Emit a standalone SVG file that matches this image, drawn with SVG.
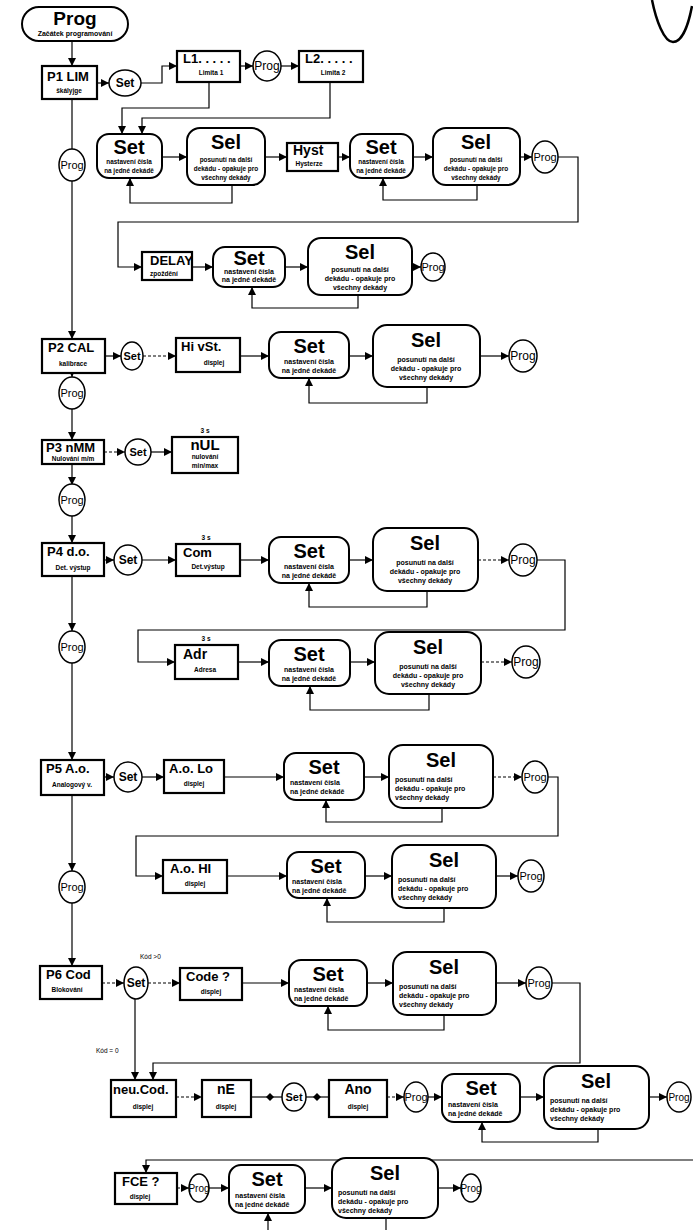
<svg xmlns="http://www.w3.org/2000/svg" width="693" height="1230" viewBox="0 0 693 1230">
<defs>
<marker id="a" viewBox="0 0 10 10" refX="10" refY="5" markerWidth="9" markerHeight="8" markerUnits="userSpaceOnUse" orient="auto"><path d="M0,0 L10,5 L0,10z" fill="#000"/></marker>
<marker id="dm" viewBox="0 0 10 10" refX="5" refY="5" markerWidth="11" markerHeight="8" markerUnits="userSpaceOnUse" orient="auto"><path d="M0,5 L5,0 L10,5 L5,10z" fill="#000"/></marker>
</defs>
<style>
.b{fill:#fff;stroke:#000;stroke-width:2.2}
.r{fill:#fff;stroke:#000;stroke-width:2}
.c{fill:#fff;stroke:#000;stroke-width:1.5}
.l{fill:none;stroke:#000;stroke-width:1.2}
.d{stroke-dasharray:3 2}
text{font-family:"Liberation Sans",Arial,sans-serif;font-weight:bold;fill:#000}
.big{font-size:20px;text-anchor:middle}
.t{font-size:13px}
.tm{font-size:13px;text-anchor:middle}
.s{font-size:6.5px;text-anchor:middle}
.x{font-size:7px;text-anchor:middle}
.xn{font-size:6.4px;text-anchor:middle}
.xl{font-size:7px}
.cs{font-size:12px;text-anchor:middle}
.cp{font-size:12px;text-anchor:middle;font-weight:normal}
</style>
<rect width="693" height="1230" fill="#fff"/>
<path d="M652,0 C656,20 664,42 673,42 C683,42 689,22 692,6" fill="none" stroke="#000" stroke-width="2.5"/>

<g id="connectors">
<path class="l" d="M72,41 V66" marker-end="url(#a)"/>
<path class="l" d="M97,83 H109" marker-end="url(#a)"/>
<path class="l" d="M141,83 H162 V66 H177" marker-end="url(#a)"/>
<path class="l" d="M240,66 H253" marker-end="url(#a)"/>
<path class="l" d="M281,66 H299" marker-end="url(#a)"/>
<path class="l" d="M209,82 V108 H122 V134" marker-end="url(#a)"/>
<path class="l" d="M330,82 V118 H142 V134" marker-end="url(#a)"/>
<path class="l" d="M162,157 H187" marker-end="url(#a)"/>
<path class="l" d="M265,157 H287" marker-end="url(#a)"/>
<path class="l" d="M338,157 H350" marker-end="url(#a)"/>
<path class="l" d="M413,157 H433" marker-end="url(#a)"/>
<path class="l" d="M520,157 H532" marker-end="url(#a)"/>
<path class="l" d="M558,157 H578 V222 H118 V267 H142" marker-end="url(#a)"/>
<path class="l" d="M232,185 V203 H130 V178" marker-end="url(#a)"/>
<path class="l" d="M477,185 V200 H383 V178" marker-end="url(#a)"/>
<path class="l" d="M192,267 H213" marker-end="url(#a)"/>
<path class="l" d="M285,267 H308" marker-end="url(#a)"/>
<path class="l" d="M412,267 H421" marker-end="url(#a)"/>
<path class="l" d="M358,295 V308 H252 V287" marker-end="url(#a)"/>
<path class="l" d="M72,99 V149"/>
<path class="l" d="M72,181 V339" marker-end="url(#a)"/>
<path class="l" d="M105,356 H121" marker-end="url(#a)"/>
<path class="l d" d="M143,356 H176" marker-end="url(#a)"/>
<path class="l" d="M240,356 H269" marker-end="url(#a)"/>
<path class="l" d="M349,356 H373" marker-end="url(#a)"/>
<path class="l" d="M480,356 H509" marker-end="url(#a)"/>
<path class="l" d="M427,387 V403 H309 V378" marker-end="url(#a)"/>
<path class="l" d="M72,373 V377" marker-end="url(#a)"/>
<path class="l" d="M72,409 V440" marker-end="url(#a)"/>
<path class="l d" d="M104,452 H125" marker-end="url(#a)"/>
<path class="l" d="M151,452 H172" marker-end="url(#a)"/>
<path class="l" d="M72,464 V485" marker-end="url(#a)"/>
<path class="l" d="M72,516 V543" marker-end="url(#a)"/>
<path class="l" d="M104,560 H114" marker-end="url(#a)"/>
<path class="l" d="M142,560 H176" marker-end="url(#a)"/>
<path class="l" d="M240,560 H269" marker-end="url(#a)"/>
<path class="l" d="M349,560 H373" marker-end="url(#a)"/>
<path class="l d" d="M478,560 H509" marker-end="url(#a)"/>
<path class="l" d="M537,560 H565 V630 H138 V662 H175" marker-end="url(#a)"/>
<path class="l" d="M427,591 V607 H309 V583" marker-end="url(#a)"/>
<path class="l" d="M72,576 V631" marker-end="url(#a)"/>
<path class="l" d="M238,662 H269" marker-end="url(#a)"/>
<path class="l" d="M350,662 H375" marker-end="url(#a)"/>
<path class="l d" d="M481,662 H512" marker-end="url(#a)"/>
<path class="l" d="M429,694 V710 H310 V686" marker-end="url(#a)"/>
<path class="l" d="M72,663 V760" marker-end="url(#a)"/>
<path class="l" d="M104,777 H114" marker-end="url(#a)"/>
<path class="l" d="M142,777 H164" marker-end="url(#a)"/>
<path class="l" d="M224,777 H284" marker-end="url(#a)"/>
<path class="l" d="M364,777 H389" marker-end="url(#a)"/>
<path class="l d" d="M493,777 H522" marker-end="url(#a)"/>
<path class="l" d="M548,777 H558 V836 H136 V876 H163" marker-end="url(#a)"/>
<path class="l" d="M442,808 V822 H326 V800" marker-end="url(#a)"/>
<path class="l" d="M227,876 H287" marker-end="url(#a)"/>
<path class="l" d="M365,876 H392" marker-end="url(#a)"/>
<path class="l" d="M496,876 H518" marker-end="url(#a)"/>
<path class="l" d="M444,908 V922 H327 V898" marker-end="url(#a)"/>
<path class="l" d="M72,795 V871" marker-end="url(#a)"/>
<path class="l" d="M72,903 V966" marker-end="url(#a)"/>
<path class="l d" d="M102,983 H124" marker-end="url(#a)"/>
<path class="l d" d="M148,983 H180" marker-end="url(#a)"/>
<path class="l" d="M242,983 H289" marker-end="url(#a)"/>
<path class="l" d="M367,983 H393" marker-end="url(#a)"/>
<path class="l" d="M496,983 H526" marker-end="url(#a)"/>
<path class="l" d="M552,983 H580 V1063 H153 V1080" marker-end="url(#a)"/>
<path class="l" d="M444,1015 V1030 H328 V1006" marker-end="url(#a)"/>
<path class="l" d="M135,999 V1080" marker-end="url(#a)"/>
<path class="l d" d="M176,1097 H202" marker-end="url(#a)"/>
<path class="l" d="M251,1097 H270 H282" marker-mid="url(#dm)"/>
<path class="l" d="M306,1097 H317 H329" marker-mid="url(#dm)"/>
<path class="l d" d="M387,1097 H404" marker-end="url(#a)"/>
<path class="l" d="M428,1097 H442" marker-end="url(#a)"/>
<path class="l" d="M520,1097 H544" marker-end="url(#a)"/>
<path class="l" d="M649,1097 H667" marker-end="url(#a)"/>
<path class="l" d="M598,1129 V1142 H482 V1122" marker-end="url(#a)"/>
<path class="l" d="M693,1160 H146 V1173" marker-end="url(#a)"/>
<path class="l d" d="M177,1188 H189" marker-end="url(#a)"/>
<path class="l" d="M209,1188 H229" marker-end="url(#a)"/>
<path class="l" d="M305,1188 H332" marker-end="url(#a)"/>
<path class="l" d="M438,1188 H461" marker-end="url(#a)"/>
<path class="l" d="M386,1218 V1230"/>
<path class="l" d="M268,1230 V1213" marker-end="url(#a)"/>
</g>

<g id="start"><rect class="r" x="22" y="7" width="106" height="34" rx="17"/><text class="big" x="75" y="25" style="font-size:19px">Prog</text><text class="s" x="75" y="36" style="font-size:7px">Začátek programování</text></g>
<g id="p1"><rect class="b" x="42" y="66" width="55" height="33"/><text class="t" x="47" y="81">P1  LIM</text><text class="s" x="69" y="93">škályjge</text></g>
<g id="p1set"><ellipse class="c" cx="125" cy="83" rx="16" ry="13"/><text class="cs" x="125" y="87">Set</text></g>
<g id="l1"><rect class="b" x="177" y="51" width="63" height="31"/><text class="t" x="183" y="63">L1. . . . .</text><text class="s" x="211" y="75">Limita 1</text></g>
<g id="prog-l"><ellipse class="c" cx="267" cy="66" rx="14" ry="15"/><text class="cp" x="267" y="70">Prog</text></g>
<g id="l2"><rect class="b" x="299" y="51" width="64" height="31"/><text class="t" x="305" y="63">L2. . . . .</text><text class="s" x="333" y="75">Limita 2</text></g>

<g id="set1"><rect class="r" x="97" y="134" width="65" height="44" rx="12"/><text class="big" x="129" y="154">Set</text><text class="xn" x="129" y="164">nastavení čísla</text><text class="xn" x="129" y="173">na jedné dekádě</text></g>
<g id="sel1"><rect class="r" x="187" y="128" width="78" height="57" rx="13"/><text class="big" x="226" y="149">Sel</text><text class="xn" x="226" y="162">posunutí na další</text><text class="xn" x="226" y="171">dekádu - opakuje pro</text><text class="xn" x="226" y="180">všechny dekády</text></g>
<g id="hyst"><rect class="b" x="287" y="143" width="51" height="28"/><text class="t" x="293" y="155" style="font-size:14px">Hyst</text><text class="s" x="309" y="166">Hysterze</text></g>
<g id="set2"><rect class="r" x="350" y="134" width="63" height="44" rx="12"/><text class="big" x="381" y="154">Set</text><text class="xn" x="381" y="164">nastavení čísla</text><text class="xn" x="381" y="173">na jedné dekádě</text></g>
<g id="sel2"><rect class="r" x="433" y="128" width="87" height="57" rx="13"/><text class="big" x="476" y="149">Sel</text><text class="xn" x="476" y="162">posunutí na další</text><text class="xn" x="476" y="171">dekádu - opakuje pro</text><text class="xn" x="476" y="180">všechny dekády</text></g>
<g id="prog2"><ellipse class="c" cx="545" cy="157" rx="13" ry="16"/><text class="cp" x="545" y="161" style="font-size:11px">Prog</text></g>

<g id="delay"><rect class="b" x="142" y="252" width="50" height="28"/><text class="t" x="150" y="265">DELAY</text><text class="s" x="164" y="276">zpoždění</text></g>
<g id="set3"><rect class="r" x="213" y="247" width="72" height="40" rx="12"/><text class="big" x="249" y="265">Set</text><text class="x" x="249" y="274">nastavení čísla</text><text class="x" x="249" y="282">na jedné dekádě</text></g>
<g id="sel3"><rect class="r" x="308" y="238" width="104" height="57" rx="13"/><text class="big" x="360" y="259">Sel</text><text class="x" x="360" y="272">posunutí na další</text><text class="x" x="360" y="281">dekádu - opakuje pro</text><text class="x" x="360" y="290">všechny dekády</text></g>
<g id="prog3"><ellipse class="c" cx="433" cy="267" rx="12" ry="14"/><text class="cp" x="433" y="271" style="font-size:11px">Prog</text></g>

<g id="progm1"><ellipse class="c" cx="72" cy="165" rx="13" ry="16"/><text class="cp" x="72" y="169" style="font-size:11px">Prog</text></g>

<g id="p2"><rect class="b" x="42" y="339" width="63" height="34"/><text class="t" x="48" y="352">P2 CAL</text><text class="s" x="73" y="366">kalibrace</text></g>
<g id="p2set"><ellipse class="c" cx="132" cy="356" rx="11" ry="14"/><text class="cs" x="132" y="360" style="font-size:11px">Set</text></g>
<g id="hivst"><rect class="b" x="176" y="338" width="64" height="34"/><text class="t" x="181" y="351">Hi vSt.</text><text class="s" x="214" y="365">displej</text></g>
<g id="set4"><rect class="r" x="269" y="332" width="80" height="46" rx="12"/><text class="big" x="309" y="353">Set</text><text class="x" x="309" y="364">nastavení čísla</text><text class="x" x="309" y="373">na jedné dekádě</text></g>
<g id="sel4"><rect class="r" x="373" y="325" width="107" height="62" rx="14"/><text class="big" x="426" y="347">Sel</text><text class="x" x="426" y="362">posunutí na další</text><text class="x" x="426" y="371">dekádu - opakuje pro</text><text class="x" x="426" y="380">všechny dekády</text></g>
<g id="prog4"><ellipse class="c" cx="523" cy="356" rx="14" ry="16"/><text class="cp" x="523" y="360">Prog</text></g>
<g id="progm2"><ellipse class="c" cx="72" cy="393" rx="13" ry="16"/><text class="cp" x="72" y="397" style="font-size:11px">Prog</text></g>

<g id="p3"><rect class="b" x="42" y="440" width="62" height="24"/><text class="t" x="46" y="452">P3  nMM</text><text class="s" x="73" y="461">Nulování m/m</text></g>
<g id="p3set"><ellipse class="c" cx="138" cy="452" rx="13" ry="13"/><text class="cs" x="138" y="456" style="font-size:11px">Set</text></g>
<g id="nul"><text class="s" x="205" y="433">3 s</text><rect class="b" x="172" y="437" width="66" height="36"/><text class="tm" x="205" y="450" style="font-size:15px">nUL</text><text class="s" x="205" y="459">nulování</text><text class="s" x="205" y="468">min/max</text></g>
<g id="progm3"><ellipse class="c" cx="72" cy="500" rx="13" ry="16"/><text class="cp" x="72" y="504" style="font-size:11px">Prog</text></g>

<g id="p4"><rect class="b" x="42" y="543" width="62" height="33"/><text class="t" x="47" y="556">P4    d.o.</text><text class="s" x="73" y="570">Det. výstup</text></g>
<g id="p4set"><ellipse class="c" cx="128" cy="560" rx="14" ry="15"/><text class="cs" x="128" y="564">Set</text></g>
<g id="com"><text class="s" x="206" y="540">3 s</text><rect class="b" x="176" y="544" width="64" height="32"/><text class="t" x="183" y="557">Com</text><text class="s" x="208" y="569">Det.výstup</text></g>
<g id="set5"><rect class="r" x="269" y="537" width="80" height="46" rx="12"/><text class="big" x="309" y="558">Set</text><text class="x" x="309" y="569">nastavení čísla</text><text class="x" x="309" y="578">na jedné dekádě</text></g>
<g id="sel5"><rect class="r" x="373" y="528" width="105" height="63" rx="14"/><text class="big" x="425" y="550">Sel</text><text class="x" x="425" y="565">posunutí na další</text><text class="x" x="425" y="574">dekádu - opakuje pro</text><text class="x" x="425" y="583">všechny dekády</text></g>
<g id="prog5"><ellipse class="c" cx="523" cy="560" rx="14" ry="16"/><text class="cp" x="523" y="564">Prog</text></g>

<g id="adr"><text class="s" x="206" y="641">3 s</text><rect class="b" x="175" y="645" width="63" height="34"/><text class="t" x="183" y="659" style="font-size:14px">Adr</text><text class="s" x="205" y="672">Adresa</text></g>
<g id="set6a"><rect class="r" x="269" y="640" width="81" height="46" rx="12"/><text class="big" x="309" y="661">Set</text><text class="x" x="309" y="672">nastavení čísla</text><text class="x" x="309" y="681">na jedné dekádě</text></g>
<g id="sel6a"><rect class="r" x="375" y="632" width="106" height="62" rx="14"/><text class="big" x="428" y="654">Sel</text><text class="x" x="428" y="669">posunutí na další</text><text class="x" x="428" y="678">dekádu - opakuje pro</text><text class="x" x="428" y="687">všechny dekády</text></g>
<g id="prog6"><ellipse class="c" cx="526" cy="662" rx="14" ry="16"/><text class="cp" x="526" y="666">Prog</text></g>
<g id="progm4"><ellipse class="c" cx="72" cy="647" rx="13" ry="16"/><text class="cp" x="72" y="651" style="font-size:11px">Prog</text></g>

<g id="p5"><rect class="b" x="41" y="760" width="63" height="35"/><text class="t" x="46" y="773">P5   A.o.</text><text class="s" x="72" y="787">Analogový v.</text></g>
<g id="p5set"><ellipse class="c" cx="128" cy="777" rx="14" ry="15"/><text class="cs" x="128" y="781">Set</text></g>
<g id="aolo"><rect class="b" x="164" y="760" width="60" height="33"/><text class="t" x="169" y="773">A.o.  Lo</text><text class="s" x="194" y="786">displej</text></g>
<g id="set7"><rect class="r" x="284" y="753" width="80" height="47" rx="12"/><text class="big" x="324" y="774">Set</text><text class="xl" x="290" y="785">nastavení čísla</text><text class="xl" x="290" y="794">na jedné dekádě</text></g>
<g id="sel7"><rect class="r" x="389" y="745" width="104" height="63" rx="14"/><text class="big" x="441" y="767">Sel</text><text class="xl" x="395" y="782">posunutí na další</text><text class="xl" x="395" y="791">dekádu - opakuje pro</text><text class="xl" x="395" y="800">všechny dekády</text></g>
<g id="prog7"><ellipse class="c" cx="535" cy="777" rx="13" ry="16"/><text class="cp" x="535" y="781" style="font-size:11px">Prog</text></g>

<g id="aohi"><rect class="b" x="163" y="860" width="64" height="33"/><text class="t" x="170" y="873">A.o.  HI</text><text class="s" x="195" y="886">displej</text></g>
<g id="set8"><rect class="r" x="287" y="852" width="78" height="46" rx="12"/><text class="big" x="326" y="873">Set</text><text class="xl" x="292" y="884">nastavení čísla</text><text class="xl" x="292" y="893">na jedné dekádě</text></g>
<g id="sel8"><rect class="r" x="392" y="845" width="104" height="63" rx="14"/><text class="big" x="444" y="867">Sel</text><text class="xl" x="398" y="882">posunutí na další</text><text class="xl" x="398" y="891">dekádu - opakuje pro</text><text class="xl" x="398" y="900">všechny dekády</text></g>
<g id="prog8"><ellipse class="c" cx="531" cy="876" rx="13" ry="16"/><text class="cp" x="531" y="880" style="font-size:11px">Prog</text></g>
<g id="progm5"><ellipse class="c" cx="72" cy="887" rx="13" ry="16"/><text class="cp" x="72" y="891" style="font-size:11px">Prog</text></g>

<g id="p6"><rect class="b" x="40" y="966" width="62" height="33"/><text class="t" x="46" y="979">P6  Cod</text><text class="s" x="67" y="992">Blokování</text></g>
<g id="p6set"><ellipse class="c" cx="136" cy="983" rx="12" ry="16"/><text class="cs" x="136" y="987">Set</text></g>
<text x="140" y="959" style="font-size:6.5px;font-weight:normal">Kód &gt;0</text>
<text x="96" y="1053" style="font-size:6.5px;font-weight:normal">Kód = 0</text>
<g id="code"><rect class="b" x="180" y="968" width="62" height="32"/><text class="t" x="186" y="981">Code ?</text><text class="s" x="211" y="994">displej</text></g>
<g id="set9"><rect class="r" x="289" y="960" width="78" height="46" rx="12"/><text class="big" x="328" y="981">Set</text><text class="xl" x="294" y="992">nastavení čísla</text><text class="xl" x="294" y="1001">na jedné dekádě</text></g>
<g id="sel9"><rect class="r" x="393" y="952" width="103" height="63" rx="14"/><text class="big" x="444" y="974">Sel</text><text class="xl" x="399" y="989">posunutí na další</text><text class="xl" x="399" y="998">dekádu - opakuje pro</text><text class="xl" x="399" y="1007">všechny dekády</text></g>
<g id="prog9"><ellipse class="c" cx="539" cy="983" rx="13" ry="16"/><text class="cp" x="539" y="987" style="font-size:11px">Prog</text></g>

<g id="neucod"><rect class="b" x="111" y="1080" width="65" height="37"/><text class="t" x="113" y="1094">neu.Cod.</text><text class="s" x="143" y="1109">displej</text></g>
<g id="ne"><rect class="b" x="202" y="1080" width="49" height="37"/><text class="tm" x="226" y="1094" style="font-size:14px">nE</text><text class="s" x="226" y="1109">displej</text></g>
<g id="neset"><ellipse class="c" cx="294" cy="1097" rx="12" ry="14"/><text class="cs" x="294" y="1101" style="font-size:11px">Set</text></g>
<g id="ano"><rect class="b" x="329" y="1080" width="58" height="37"/><text class="tm" x="358" y="1094" style="font-size:14px">Ano</text><text class="s" x="358" y="1109">displej</text></g>
<g id="prog10"><ellipse class="c" cx="416" cy="1097" rx="12" ry="15"/><text class="cp" x="416" y="1101" style="font-size:11px">Prog</text></g>
<g id="set10"><rect class="r" x="442" y="1074" width="78" height="48" rx="12"/><text class="big" x="481" y="1095">Set</text><text class="xl" x="448" y="1107">nastavení čísla</text><text class="xl" x="448" y="1116">na jedné dekádě</text></g>
<g id="sel10"><rect class="r" x="544" y="1066" width="105" height="63" rx="14"/><text class="big" x="596" y="1088">Sel</text><text class="xl" x="550" y="1103">posunutí na další</text><text class="xl" x="550" y="1112">dekádu - opakuje pro</text><text class="xl" x="550" y="1121">všechny dekády</text></g>
<g id="prog11"><ellipse class="c" cx="679" cy="1097" rx="12" ry="15"/><text class="cp" x="679" y="1101" style="font-size:10px">Prog</text></g>

<g id="fce"><rect class="b" x="115" y="1173" width="62" height="31"/><text class="t" x="122" y="1186">FCE  ?</text><text class="s" x="140" y="1199">displej</text></g>
<g id="prog12"><ellipse class="c" cx="199" cy="1188" rx="10" ry="14"/><text class="cp" x="199" y="1192" style="font-size:10px">Prog</text></g>
<g id="set11"><rect class="r" x="229" y="1165" width="76" height="48" rx="12"/><text class="big" x="267" y="1186">Set</text><text class="xl" x="235" y="1198">nastavení čísla</text><text class="xl" x="235" y="1207">na jedné dekádě</text></g>
<g id="sel11"><rect class="r" x="332" y="1158" width="106" height="60" rx="14"/><text class="big" x="385" y="1180">Sel</text><text class="xl" x="338" y="1195">posunutí na další</text><text class="xl" x="338" y="1204">dekádu - opakuje pro</text><text class="xl" x="338" y="1213">všechny dekády</text></g>
<g id="prog13"><ellipse class="c" cx="471" cy="1188" rx="10" ry="14"/><text class="cp" x="471" y="1192" style="font-size:10px">Prog</text></g>
</svg>
